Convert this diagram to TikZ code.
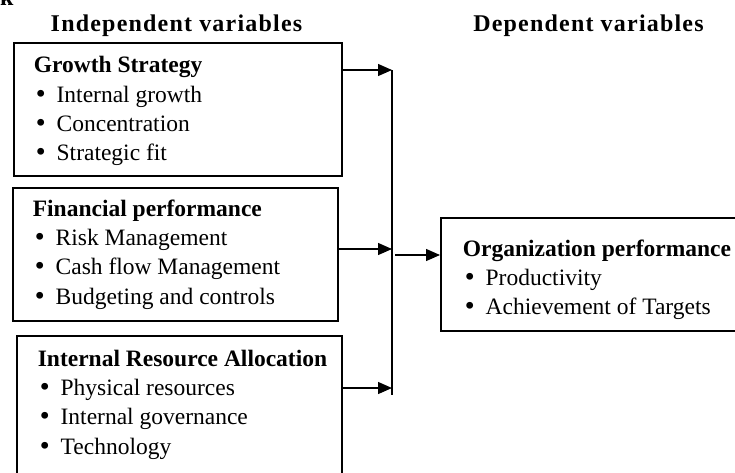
\documentclass[tikz,border=0pt]{standalone}
\usepackage{fontspec}
\setmainfont{Liberation Serif}
\newfontfamily\bulletfont{DejaVu Sans}
\usetikzlibrary{arrows.meta}

% bullet line and box contents
\newcommand{\vitem}[1]{{\bulletfont\textbullet}\hspace{9pt}#1}
\newcommand{\varlist}[5]{\parbox[t][#1][t]{#2}{\leftskip=#4\relax\vspace*{#3}\strut#5}}

\tikzset{
  varbox/.style={draw, line width=1.6pt, anchor=north west, inner sep=0pt,
    font=\fontsize{23.5}{29.3}\selectfont},
  heading/.style={anchor=base, font=\fontsize{24}{28}\selectfont\bfseries\addfontfeature{LetterSpace=5}},
  flow/.style={line width=1.3pt, -{Triangle[length=14pt,width=12pt]}}
}

\begin{document}
\begin{tikzpicture}[x=1pt,y=-1pt]
  \useasboundingbox (0,0) rectangle (735,472);

  % Headings
  \node[anchor=base east, font=\fontsize{24}{28}\selectfont\bfseries] (kfrag) at (17,5) {k};
  \node[heading] (indep) at (176.5,31) {Independent variables};
  \node[heading] (dep) at (588.5,31) {Dependent variables};

  % Independent variables
  \node[varbox] (growth) at (13,42) {\varlist{133pt}{328pt}{9.5pt}{20pt}{\textbf{Growth Strategy}\\
    \vitem{Internal growth}\\ \vitem{Concentration}\\ \vitem{Strategic fit}}};
  \node[varbox] (finance) at (12,187) {\varlist{133pt}{325pt}{8pt}{20pt}{\textbf{Financial performance}\\
    \vitem{Risk Management}\\ \vitem{Cash flow Management}\\ \vitem{Budgeting and controls}}};
  \node[varbox] (resource) at (16,335) {\varlist{160pt}{325pt}{10pt}{21pt}{\textbf{Internal Resource Allocation}\\
    \vitem{Physical resources}\\ \vitem{Internal governance}\\ \vitem{Technology}}};

  % Dependent variable
  \node[varbox] (org) at (440,217) {\varlist{113pt}{400pt}{18pt}{22pt}{\textbf{Organization performance}\\
    \vitem{Productivity}\\ \vitem{Achievement of Targets}}};

  % Connectors
  \coordinate (g-out) at ([yshift=-28pt]growth.north east);
  \coordinate (f-out) at ([yshift=-62pt]finance.north east);
  \coordinate (r-out) at ([yshift=-53pt]resource.north east);
  \coordinate (bustop) at (392,70);
  \coordinate (busbot) at (392,395);
  \coordinate (bus-out) at (395,255);
  \draw[line width=1.3pt] (bustop) -- (busbot);
  \foreach \src in {g-out,f-out,r-out}
    \draw[flow] (\src) -- (\src -| bustop);
  \draw[flow] (bus-out) -- (bus-out -| org.west);
\end{tikzpicture}
\end{document}
